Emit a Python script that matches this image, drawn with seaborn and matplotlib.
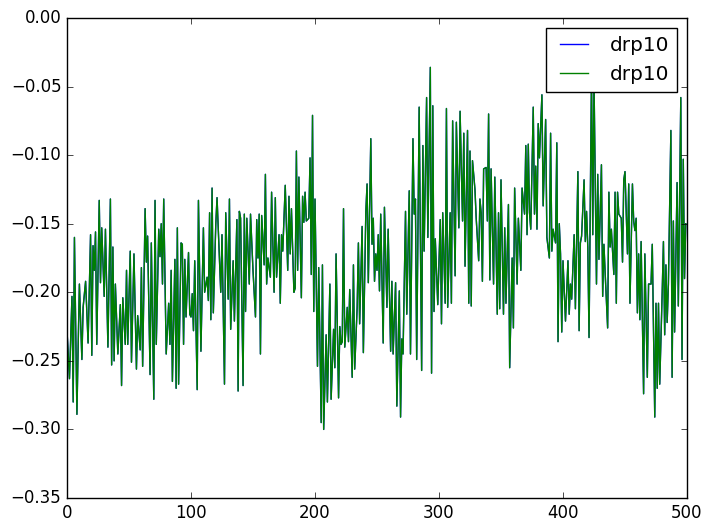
import matplotlib
matplotlib.use("Agg")
import matplotlib.pyplot as plt
import seaborn as sns
import pandas as pd

series_name = "drp10"

step = [
    0, 2, 4, 5, 6, 8, 9, 10, 12, 13, 15, 17, 19, 20, 21, 22, 23, 24, 26, 27, 28, 30, 31, 33, 35, 36, 37, 38, 39, 41, 43, 44, 45, 47, 48, 49,
    51, 52, 54, 56, 57, 59, 60, 61, 63, 64, 65, 67, 68, 70, 71, 72, 74, 75, 76, 77, 78, 80, 82, 83, 84, 85, 87, 88, 89, 90, 92, 93, 94, 95, 96, 98, 99,
    100, 101, 102, 103, 105, 106, 108, 110, 111, 113, 114, 115, 116, 117, 118, 120, 121, 123, 124, 125, 127, 128, 130, 131, 132, 134, 135, 137, 138, 139, 140, 142, 143, 144, 145, 147, 148,
    150, 152, 153, 154, 155, 156, 157, 159, 160, 161, 162, 164, 165, 167, 168, 169, 171, 172, 173, 174, 176, 178, 179, 180, 181, 183, 184, 185, 186, 187, 189, 190, 191, 192, 193, 195, 196, 197, 198,
    199, 200, 202, 203, 205, 206, 207, 209, 210, 212, 213, 215, 216, 217, 219, 220, 221, 222, 223, 224, 226, 227, 228, 230, 231, 232, 234, 235, 236, 238, 239, 241, 242, 243, 245, 246, 247, 248, 249, 250, 251, 252, 253,
    255, 256, 258, 259, 261, 262, 263, 265, 266, 268, 269, 270, 271, 273, 274, 276, 277, 279, 280, 281, 282, 284, 286, 287, 288, 290, 291, 293, 294, 295, 296, 297, 299, 301, 302, 303,
    305, 306, 307, 309, 310, 311, 313, 314, 316, 317, 319, 320, 321, 323, 324, 325, 326, 327, 329, 330, 332, 333, 334, 335, 336, 338, 339, 340, 341, 342, 344, 345, 347, 348, 349, 350, 352, 353,
    354, 356, 357, 359, 360, 361, 363, 364, 366, 367, 369, 370, 371, 372, 373, 374, 376, 377, 378, 379, 380, 381, 383, 384, 386, 387, 389, 390, 391, 392, 394, 395, 396, 397, 398, 399,
    400, 402, 404, 405, 406, 407, 408, 409, 410, 412, 413, 414, 415, 417, 418, 419, 420, 421, 423, 424, 425, 427, 428, 429, 431, 432, 433, 434, 436, 437, 438, 439, 441, 442, 443, 444, 445, 447, 448, 449, 450, 452, 453,
    454, 456, 457, 458, 459, 460, 461, 462, 463, 465, 466, 468, 469, 471, 472, 474, 475, 476, 477, 478, 480, 481, 482, 483, 484, 485, 487, 488, 489, 490, 492, 493, 495, 496, 497, 498, 499,
]

drp10 = [
    -0.228, -0.263, -0.203, -0.280, -0.160, -0.289, -0.239, -0.194, -0.249, -0.211, -0.192, -0.237, -0.158, -0.246, -0.166, -0.184, -0.156, -0.238, -0.133, -0.193, -0.153, -0.203, -0.154, -0.240, -0.132, -0.253, -0.167, -0.250, -0.194, -0.245, -0.209, -0.268, -0.204, -0.238, -0.184, -0.238,
    -0.170, -0.251, -0.172, -0.256, -0.217, -0.242, -0.182, -0.254, -0.139, -0.178, -0.159, -0.260, -0.164, -0.278, -0.133, -0.238, -0.154, -0.174, -0.150, -0.194, -0.132, -0.245, -0.208, -0.238, -0.184, -0.265, -0.176, -0.270, -0.153, -0.267, -0.164, -0.165, -0.238, -0.176, -0.218, -0.171, -0.216,
    -0.218, -0.201, -0.228, -0.177, -0.271, -0.133, -0.243, -0.153, -0.200, -0.189, -0.206, -0.142, -0.220, -0.124, -0.215, -0.150, -0.131, -0.176, -0.200, -0.158, -0.267, -0.142, -0.205, -0.132, -0.227, -0.177, -0.221, -0.147, -0.272, -0.141, -0.146, -0.268, -0.143, -0.214, -0.146, -0.194, -0.143,
    -0.184, -0.218, -0.147, -0.175, -0.143, -0.245, -0.144, -0.180, -0.114, -0.194, -0.175, -0.189, -0.127, -0.200, -0.131, -0.189, -0.158, -0.208, -0.158, -0.170, -0.122, -0.184, -0.130, -0.172, -0.139, -0.200, -0.197, -0.097, -0.184, -0.116, -0.204, -0.130, -0.149, -0.127, -0.148, -0.146, -0.102, -0.187, -0.071,
    -0.214, -0.132, -0.254, -0.182, -0.295, -0.180, -0.300, -0.231, -0.280, -0.194, -0.278, -0.227, -0.255, -0.172, -0.277, -0.225, -0.238, -0.236, -0.139, -0.240, -0.211, -0.236, -0.198, -0.262, -0.180, -0.256, -0.211, -0.164, -0.223, -0.152, -0.244, -0.141, -0.121, -0.193, -0.088, -0.165, -0.146, -0.192, -0.172, -0.184, -0.158, -0.199, -0.143,
    -0.237, -0.138, -0.211, -0.154, -0.243, -0.192, -0.245, -0.193, -0.283, -0.199, -0.291, -0.234, -0.245, -0.141, -0.216, -0.126, -0.245, -0.088, -0.143, -0.132, -0.249, -0.065, -0.257, -0.093, -0.170, -0.058, -0.160, -0.036, -0.259, -0.064, -0.214, -0.161, -0.209, -0.147, -0.223, -0.142,
    -0.208, -0.066, -0.211, -0.142, -0.208, -0.075, -0.188, -0.076, -0.153, -0.068, -0.148, -0.084, -0.181, -0.082, -0.208, -0.097, -0.210, -0.104, -0.125, -0.146, -0.177, -0.132, -0.142, -0.192, -0.110, -0.109, -0.148, -0.070, -0.191, -0.110, -0.194, -0.116, -0.216, -0.142, -0.212, -0.118, -0.216, -0.153,
    -0.208, -0.136, -0.255, -0.175, -0.226, -0.124, -0.194, -0.146, -0.184, -0.124, -0.143, -0.093, -0.158, -0.092, -0.142, -0.154, -0.065, -0.143, -0.108, -0.154, -0.077, -0.102, -0.056, -0.137, -0.074, -0.160, -0.175, -0.084, -0.170, -0.154, -0.164, -0.091, -0.236, -0.150, -0.172, -0.229,
    -0.177, -0.221, -0.177, -0.216, -0.194, -0.205, -0.182, -0.158, -0.212, -0.112, -0.228, -0.164, -0.159, -0.118, -0.163, -0.141, -0.167, -0.233, -0.040, -0.158, -0.045, -0.194, -0.114, -0.176, -0.107, -0.203, -0.165, -0.186, -0.226, -0.127, -0.167, -0.154, -0.187, -0.127, -0.208, -0.127, -0.143, -0.146, -0.178, -0.118, -0.112, -0.172, -0.121,
    -0.208, -0.121, -0.148, -0.155, -0.146, -0.215, -0.172, -0.220, -0.163, -0.274, -0.172, -0.262, -0.194, -0.194, -0.165, -0.291, -0.208, -0.270, -0.208, -0.267, -0.200, -0.163, -0.231, -0.180, -0.222, -0.194, -0.082, -0.262, -0.148, -0.229, -0.120, -0.210, -0.058, -0.249, -0.103, -0.190, -0.150,
]

df = pd.DataFrame({"step": step, "value": drp10})

plt.style.use("classic")
plt.rcParams["figure.facecolor"] = "white"
plt.rcParams["savefig.facecolor"] = "white"
plt.rcParams["font.family"] = ["DejaVu Sans"]

fig = plt.figure(figsize=(7.12, 5.32), dpi=100)
ax = fig.add_axes([67 / 712, 34 / 532, 620 / 712, 480 / 532])

sns.lineplot(data=df, x="step", y="value", ax=ax, color="b", lw=1.0, label=series_name, estimator=None)
sns.lineplot(data=df, x="step", y="value", ax=ax, color="g", lw=1.0, label=series_name, estimator=None)

ax.set_xlim(0, 500)
ax.set_ylim(-0.35, 0.0)
ax.set_xticks([0, 100, 200, 300, 400, 500])
ax.set_yticks([-0.35, -0.30, -0.25, -0.20, -0.15, -0.10, -0.05, 0.00])
ax.set_yticklabels([f"{v:.2f}".replace("-", "\u2212") for v in [-0.35, -0.30, -0.25, -0.20, -0.15, -0.10, -0.05, 0.00]])
ax.set_xlabel("")
ax.set_ylabel("")
ax.legend(loc="upper right")

fig.savefig("out.png", dpi=100)
